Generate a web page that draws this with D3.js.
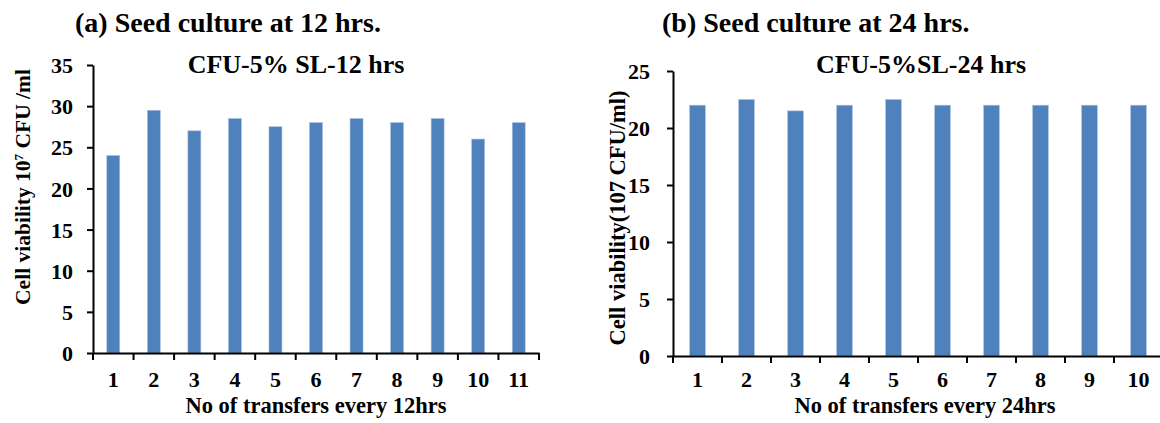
<!DOCTYPE html>
<html>
<head>
<meta charset="utf-8">
<script src="https://cdn.jsdelivr.net/npm/d3@7"></script>
<style>
  body { margin: 0; background: #fff; }
  svg text { font-family: "Liberation Serif", "Times New Roman", serif; font-weight: bold; fill: #000; }
</style>
</head>
<body>
<svg id="chart" width="1160" height="423"></svg>
<script>
// datos
const transfers12 = ['1', '2', '3', '4', '5', '6', '7', '8', '9', '10', '11'];
const cfu12 = [24, 29.5, 27, 28.5, 27.5, 28, 28.5, 28, 28.5, 26, 28];
const yTicks12 = [0, 5, 10, 15, 20, 25, 30, 35];

const transfers24 = ['1', '2', '3', '4', '5', '6', '7', '8', '9', '10'];
const cfu24 = [22, 22.5, 21.5, 22, 22.5, 22, 22, 22, 22, 22];
const yTicks24 = [0, 5, 10, 15, 20, 25];

const barColor = '#4f81bd';
const svg = d3.select('#chart');

function drawPanel(opt) {
    const g = svg.append('g');
    const x = d3.scaleBand().domain(opt.cats).range([opt.x0, opt.x1]).padding(0);
    const y = d3.scaleLinear().domain([0, opt.yMax]).range([opt.yBottom, opt.yTop]);
    const bw = x.bandwidth() * 0.32;

    // barras
    g.selectAll('rect')
        .data(opt.values)
        .enter()
        .append('rect')
        .attr('x', (d, i) => x(opt.cats[i]) + x.bandwidth() / 2 - bw / 2)
        .attr('y', d => y(d))
        .attr('width', bw)
        .attr('height', d => y(0) - y(d))
        .attr('fill', barColor)
        .attr('stroke', '#a9c1e0')
        .attr('stroke-width', 0.6);

    // eje y
    const yAxis = g.append('g')
        .attr('transform', `translate(${opt.x0},0)`)
        .call(d3.axisLeft(y).tickValues(opt.yTicks).tickSize(6).tickSizeOuter(0));
    yAxis.select('.domain').attr('stroke', '#000').attr('stroke-width', 2);
    yAxis.selectAll('.tick line').attr('stroke', '#000').attr('stroke-width', 2);
    yAxis.selectAll('.tick text').attr('x', opt.yTickGap).attr('dy', '0.35em')
        .style('font-family', '"Liberation Serif", serif').style('font-size', '22px');

    // eje x con etiquetas
    const xAxis = g.append('g')
        .attr('transform', `translate(0,${opt.yBottom})`)
        .call(d3.axisBottom(x).tickSize(0).tickSizeOuter(0));
    xAxis.select('.domain').attr('stroke', '#000').attr('stroke-width', 2);
    xAxis.selectAll('.tick text').attr('y', 0).attr('dy', 387 - opt.yBottom)
        .style('font-family', '"Liberation Serif", serif').style('font-size', '22px');

    // marcas entre categorias
    const edges = opt.cats.map(c => x(c)).concat([x.range()[1]]);
    g.selectAll('line.edge')
        .data(edges)
        .enter()
        .append('line')
        .attr('class', 'edge')
        .attr('x1', d => d).attr('x2', d => d)
        .attr('y1', opt.yBottom).attr('y2', opt.yBottom + 7)
        .attr('stroke', '#000').attr('stroke-width', 2);

    // titulos
    g.append('text')
        .attr('x', opt.panelX)
        .attr('y', 32)
        .style('font-size', '28px')
        .text(opt.panelTitle);

    g.append('text')
        .attr('x', opt.titleX)
        .attr('y', 73)
        .attr('text-anchor', 'middle')
        .style('font-size', '26px')
        .text(opt.title);

    g.append('text')
        .attr('x', opt.xLabelX)
        .attr('y', 413)
        .attr('text-anchor', 'middle')
        .style('font-size', '22.5px')
        .text(opt.xLabel);

    const yl = g.append('text')
        .attr('transform', `translate(${opt.yLabelX},${opt.yLabelY}) rotate(-90)`)
        .attr('text-anchor', 'middle')
        .style('font-size', opt.yLabelSize);
    opt.yLabel(yl);
}

drawPanel({
    cats: transfers12, values: cfu12, yTicks: yTicks12, yMax: 35,
    x0: 93, x1: 539, yTop: 65, yBottom: 353, yTickGap: -20,
    panelX: 75, panelTitle: '(a) Seed culture at 12 hrs.',
    titleX: 296, title: 'CFU-5% SL-12 hrs',
    xLabelX: 316, xLabel: 'No of transfers every 12hrs',
    yLabelX: 30, yLabelY: 187, yLabelSize: '21.5px',
    yLabel: t => {
        t.append('tspan').text('Cell viability 10');
        t.append('tspan').attr('baseline-shift', 'super').style('font-size', '13px').text('7');
        t.append('tspan').text(' CFU /ml');
    }
});

drawPanel({
    cats: transfers24, values: cfu24, yTicks: yTicks24, yMax: 25,
    x0: 673, x1: 1163, yTop: 71, yBottom: 356, yTickGap: -23,
    panelX: 662, panelTitle: '(b) Seed culture at 24 hrs.',
    titleX: 921, title: 'CFU-5%SL-24 hrs',
    xLabelX: 925, xLabel: 'No of transfers every 24hrs',
    yLabelX: 625, yLabelY: 218, yLabelSize: '22.5px',
    yLabel: t => t.text('Cell viability(107 CFU/ml)')
});
</script>
</body>
</html>
